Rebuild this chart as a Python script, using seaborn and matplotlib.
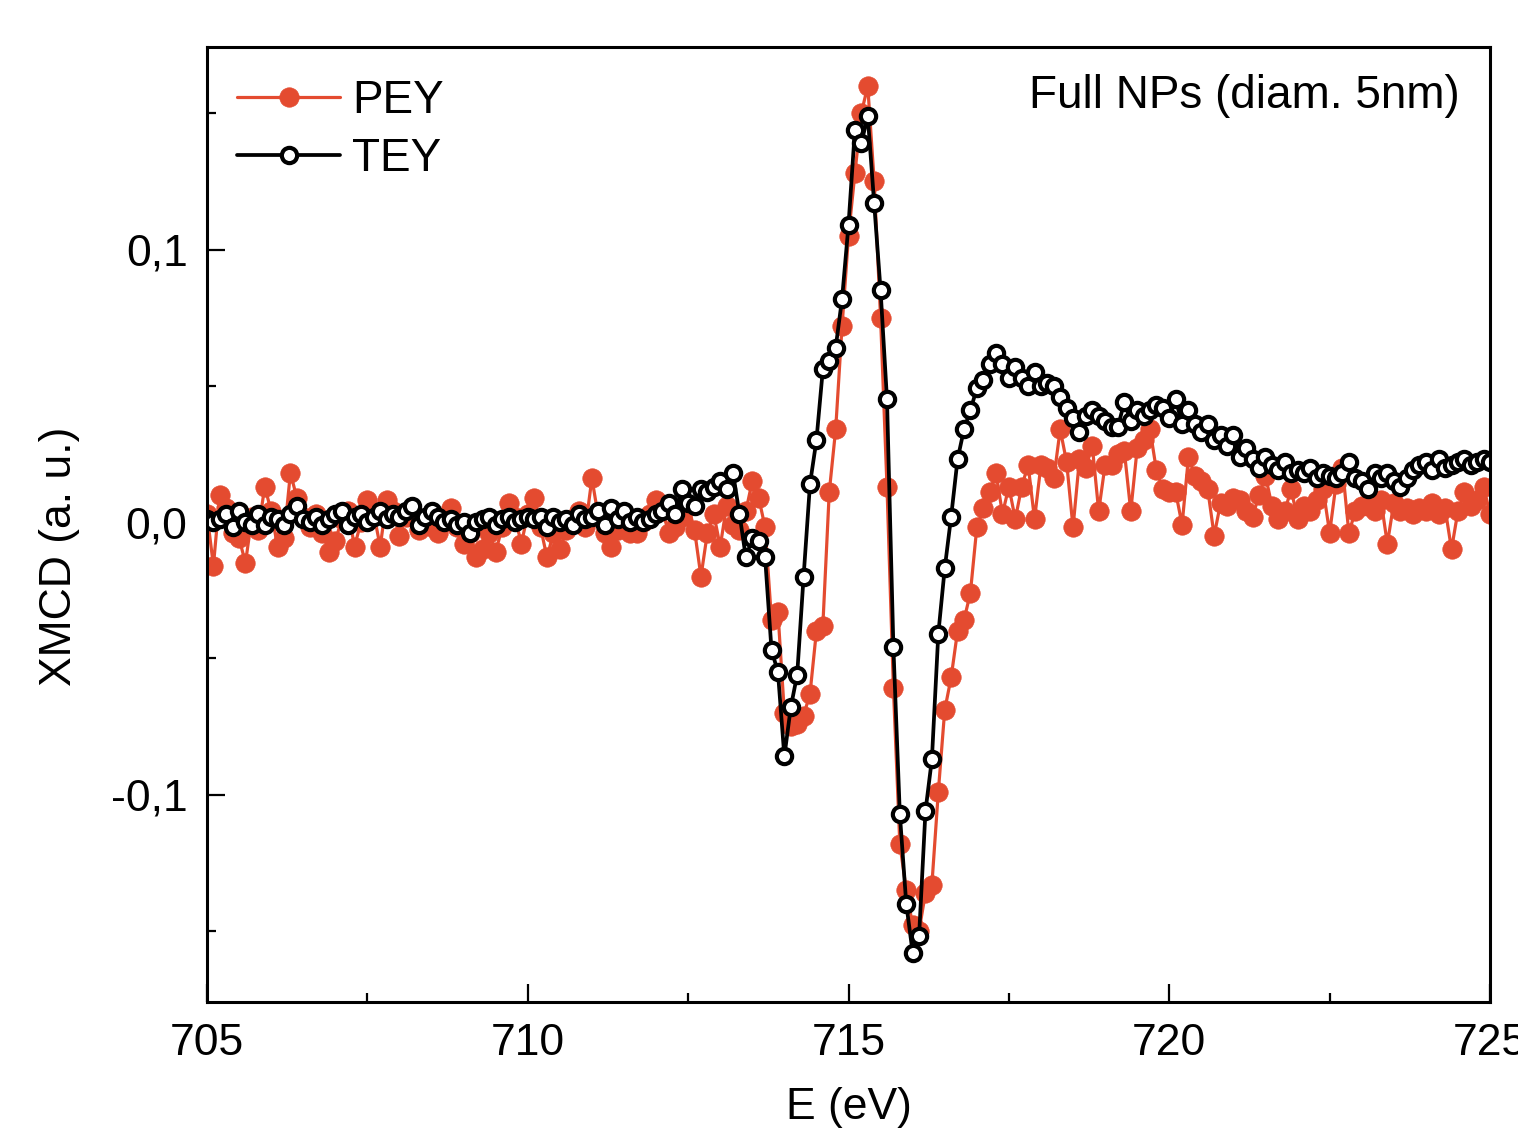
import numpy as np
import pandas as pd
import matplotlib
matplotlib.use("Agg")
import matplotlib.pyplot as plt
import seaborn as sns
from matplotlib.ticker import MultipleLocator, FixedLocator, FixedFormatter

# ---------------- data ----------------
energy = np.round(np.linspace(705.0, 725.0, 201), 1)

pey = [
    # 705.0 - 709.9
    0.003, -0.016, 0.010, 0.005, -0.004, -0.006, -0.015, 0.002, -0.003, 0.013,
    0.004, -0.009, -0.006, 0.018, 0.009, 0.002, -0.002, 0.003, -0.004, -0.011,
    -0.007, 0.001, 0.004, -0.009, 0.000, 0.008, 0.003, -0.009, 0.008, 0.004,
    -0.005, 0.002, 0.002, -0.003, 0.001, -0.002, -0.004, 0.002, 0.005, -0.002,
    -0.008, -0.004, -0.013, -0.010, -0.004, -0.011, -0.002, 0.007, 0.002, -0.008,
    # 710.0 - 713.0
    0.003, 0.009, -0.002, -0.013, -0.004, -0.010, -0.003, 0.000, 0.004, -0.002,
    0.016, 0.002, -0.004, -0.009, -0.003, 0.000, -0.004, -0.004, 0.000, 0.003,
    0.008, 0.004, -0.004, -0.002, 0.002, 0.006, -0.003, -0.020, -0.004, 0.003,
    -0.009,
    # 713.1 - 716.9
    0.006, -0.001, -0.003, 0.004, 0.015, 0.009, -0.002, -0.036, -0.033,
    -0.070, -0.075, -0.074, -0.071, -0.063, -0.040, -0.038, 0.011, 0.034, 0.072,
    0.105, 0.128, 0.150, 0.160, 0.125, 0.075, 0.013, -0.061, -0.118, -0.135,
    -0.148, -0.150, -0.136, -0.133, -0.099, -0.069, -0.057, -0.040, -0.036, -0.026,
    # 717.0 - 719.9
    -0.002, 0.005, 0.011, 0.018, 0.003, 0.013, 0.001, 0.013, 0.021, 0.001,
    0.021, 0.020, 0.016, 0.034, 0.022, -0.002, 0.023, 0.020, 0.028, 0.004,
    0.021, 0.021, 0.025, 0.026, 0.004, 0.027, 0.030, 0.034, 0.019, 0.012,
    # 720.0 - 725.0
    0.011, 0.011, -0.001, 0.024, 0.017, 0.015, 0.012, -0.005, 0.007, 0.006,
    0.009, 0.008, 0.004, 0.002, 0.010, 0.017, 0.006, 0.001, 0.004, 0.012,
    0.001, 0.006, 0.004, 0.008, 0.012, -0.004, 0.014, 0.020, -0.004, 0.004,
    0.006, 0.006, 0.004, 0.008, -0.008, 0.007, 0.004, 0.005, 0.003, 0.005,
    0.004, 0.007, 0.003, 0.005, -0.010, 0.004, 0.011, 0.006, 0.008, 0.013,
    0.003,
]

tey = [
    # 705.0 - 709.9
    0.001, 0.000, 0.001, 0.003, -0.002, 0.004, 0.000, -0.001, 0.003, -0.001,
    0.002, 0.001, -0.001, 0.003, 0.006, 0.001, 0.000, 0.002, -0.001, 0.001,
    0.003, 0.004, -0.001, 0.002, 0.003, 0.000, 0.002, 0.004, 0.001, 0.003,
    0.002, 0.004, 0.006, -0.001, 0.002, 0.004, 0.002, 0.000, 0.001, -0.001,
    0.000, -0.004, 0.000, 0.001, 0.002, -0.001, 0.001, 0.002, 0.000, 0.001,
    # 710.0 - 713.1
    0.002, 0.001, 0.002, -0.002, 0.002, 0.000, 0.001, -0.001, 0.003, 0.001,
    0.002, 0.004, -0.001, 0.005, 0.001, 0.004, 0.000, 0.002, 0.000, 0.001,
    0.003, 0.004, 0.007, 0.003, 0.012, 0.007, 0.006, 0.012, 0.011, 0.013,
    0.015, 0.012,
    # 713.2 - 719.8
    0.018, 0.003, -0.013, -0.006, -0.007, -0.013, -0.047, -0.055,
    -0.086, -0.068, -0.056, -0.020, 0.014, 0.030, 0.056, 0.059, 0.064, 0.082,
    0.109, 0.144, 0.139, 0.149, 0.117, 0.085, 0.045, -0.046, -0.107, -0.140,
    -0.158, -0.152, -0.106, -0.087, -0.041, -0.017, 0.002, 0.023, 0.034, 0.041,
    0.049, 0.052, 0.058, 0.062, 0.058, 0.053, 0.057, 0.053, 0.050, 0.055,
    0.050, 0.051, 0.050, 0.046, 0.042, 0.038, 0.033, 0.039, 0.041, 0.039,
    0.037, 0.035, 0.035, 0.044, 0.037, 0.041, 0.039, 0.041, 0.043,
    # 719.9 - 725.0
    0.042, 0.038, 0.045, 0.036, 0.041, 0.036, 0.033, 0.036, 0.030, 0.032,
    0.028, 0.032, 0.024, 0.027, 0.023, 0.020, 0.024, 0.021, 0.019, 0.022,
    0.018, 0.019, 0.018, 0.020, 0.016, 0.018, 0.017, 0.016, 0.018, 0.022,
    0.016, 0.015, 0.012, 0.018, 0.016, 0.018, 0.015, 0.013, 0.016, 0.019,
    0.021, 0.022, 0.019, 0.023, 0.020, 0.021, 0.022, 0.023, 0.021, 0.022,
    0.023, 0.022,
]

series_names = ["PEY", "TEY"]
ytick_vals = [-0.1, 0.0, 0.1]
ytick_labels = ["-0,1", "0,0", "0,1"]
xtick_vals = [705, 710, 715, 720, 725]
annotation = "Full NPs (diam. 5nm)"

# ---------------- style ----------------
sns.set_theme(style="white")
plt.rcParams['font.family'] = ['Liberation Sans', 'DejaVu Sans']
plt.rcParams.update({
    "text.color": "black",
    "axes.labelcolor": "black",
    "xtick.color": "black",
    "ytick.color": "black",
})

RED = "#E44B30"
W, H = 1518, 1133
FS = 32
fig = plt.figure(figsize=(W / 100, H / 100), dpi=100)
fig.patch.set_facecolor("white")
ax = fig.add_axes([207 / W, 1 - 1002 / H, (1490 - 207) / W, (1002 - 47) / H])
ax.set_facecolor("white")

df = pd.DataFrame({"E": energy, "PEY": pey, "TEY": tey})

sns.lineplot(data=df, x="E", y="PEY", ax=ax, color=RED, linewidth=2.3,
             marker="o", markersize=14, markerfacecolor=RED,
             markeredgecolor=RED, markeredgewidth=0.5,
             estimator=None, sort=False, label=series_names[0])
sns.lineplot(data=df, x="E", y="TEY", ax=ax, color="black", linewidth=2.7,
             marker="o", markersize=11, markerfacecolor="white",
             markeredgecolor="black", markeredgewidth=3.0,
             estimator=None, sort=False, label=series_names[1])

ax.set_xlim(705, 725)
ax.set_ylim(-0.1761, 0.1743)

ax.xaxis.set_major_locator(FixedLocator(xtick_vals))
ax.xaxis.set_minor_locator(MultipleLocator(2.5))
ax.yaxis.set_major_locator(FixedLocator(ytick_vals))
ax.yaxis.set_major_formatter(FixedFormatter(ytick_labels))
ax.yaxis.set_minor_locator(MultipleLocator(0.05))

ax.tick_params(which="both", direction="in", colors="black",
               bottom=True, left=True, top=False, right=False)
ax.tick_params(which="major", length=13, width=1.6, labelsize=FS)
ax.tick_params(which="minor", length=6.5, width=1.6)
ax.tick_params(axis="x", which="major", pad=15)
ax.tick_params(axis="y", which="major", pad=14)

for sp in ax.spines.values():
    sp.set_color("black")
    sp.set_linewidth(2.2)

ax.set_xlabel("E (eV)", fontsize=FS)
ax.set_ylabel("XMCD (a. u.)", fontsize=FS)
ax.xaxis.label.set_verticalalignment("center")
ax.yaxis.label.set_verticalalignment("center")
ax.xaxis.set_label_coords(0.5, (1002 - 1108) / 955)
ax.yaxis.set_label_coords((60 - 207) / 1283, (1002 - 556) / 955)

ax.text((1460 - 207) / 1283, (1002 - 96) / 955, annotation,
        transform=ax.transAxes, ha="right", va="center", fontsize=33)

leg = ax.legend(loc="upper left", bbox_to_anchor=(30 / 1283, (1002 - 79) / 955),
                frameon=False, fontsize=33, handlelength=2.25,
                handletextpad=0.26, labelspacing=0.3, borderaxespad=0,
                borderpad=0)

fig.savefig("out.png", dpi=100, facecolor="white")
